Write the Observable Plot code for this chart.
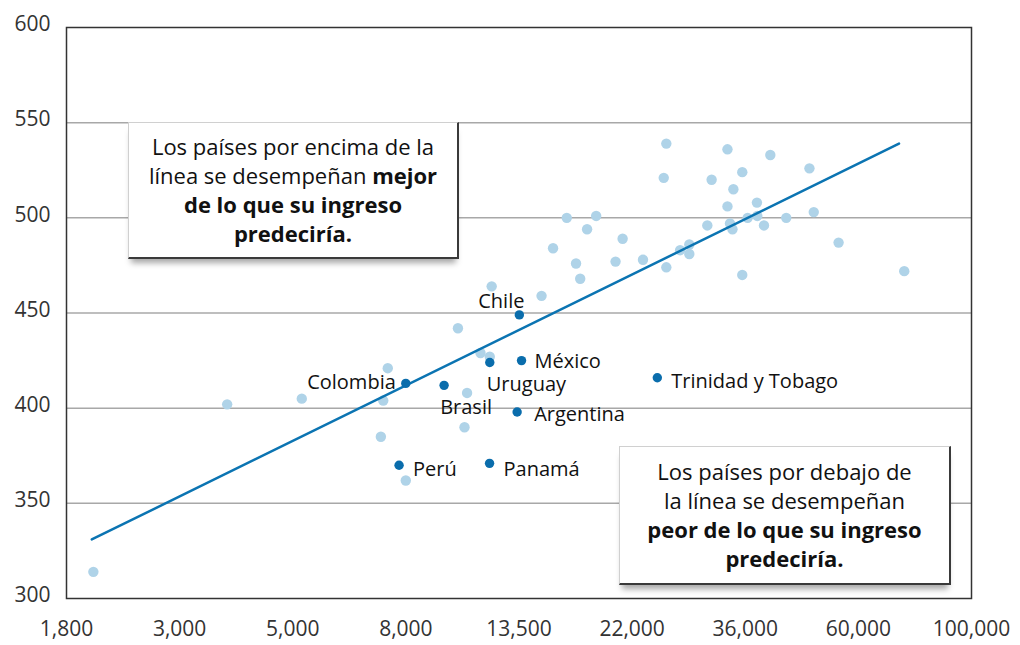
<!DOCTYPE html>
<html>
<head>
<meta charset="utf-8">
<script src="https://cdn.jsdelivr.net/npm/d3@7"></script>
<script src="https://cdn.jsdelivr.net/npm/@observablehq/plot@0.6"></script>
<style>
  html, body { margin: 0; padding: 0; background: #fff; }
  #wrap { position: relative; width: 1020px; height: 645px; font-family: "Open Sans", Lato, sans-serif; }
  #wrap svg { position: absolute; left: 0; top: 0; }
  .note {
    position: absolute; box-sizing: border-box; background: #fff;
    border-top: 1px solid #d0d0d0; border-left: 1px solid #d0d0d0;
    border-right: 2px solid #3a3a3a; border-bottom: 2px solid #3a3a3a;
    box-shadow: 0 7px 6px -3px rgba(0,0,0,0.35);
    display: flex; align-items: center; justify-content: center; text-align: center;
    font-size: 22px; line-height: 29px; color: #111;
  }
  .note b { font-weight: 700; }
</style>
</head>
<body>
<div id="wrap"></div>
<script>
// Other countries (income per capita, score)
const otherIncome = [2036, 3678, 5115, 7332, 7255, 8100, 7480, 10620, 10500, 10200, 11270, 11740,
  11840, 14760, 17510, 15530, 17190, 16500, 18790, 18050, 21120, 20470, 23110, 25620, 27230,
  28360, 28360, 25620, 25330, 31300, 33570, 40570, 35840, 48230, 34460, 33570, 38240, 30710,
  33950, 34320, 36700, 38300, 39450, 43530, 49160, 35840, 54860, 73330];
const otherScore = [314, 402, 405, 404, 385, 362, 421, 408, 390, 442, 429, 427,
  464, 459, 468, 484, 476, 500, 501, 494, 489, 477, 478, 474, 483,
  486, 481, 539, 521, 520, 536, 533, 524, 526, 515, 506, 508, 496,
  497, 494, 500, 501, 496, 500, 503, 470, 487, 472];

// Highlighted Latin American countries
const latamNames = ["Chile", "México", "Uruguay", "Argentina", "Brasil", "Colombia", "Perú", "Panamá", "Trinidad y Tobago"];
const latamIncome = [13380, 13510, 11740, 13250, 9594, 8100, 7863, 11730, 24620];
const latamScore = [449, 425, 424, 398, 412, 413, 370, 371, 416];

// Fitted line endpoints
const fitIncome = [2022, 71650];
const fitScore = [331, 539];

// Axis ticks
const xTickValues = [1808.04, 2980.96, 4914.77, 8103.08, 13359.73, 22026.47, 36315.5, 59874.14, 98715.77];
const xTickLabels = ["1,800", "3,000", "5,000", "8,000", "13,500", "22,000", "36,000", "60,000", "100,000"];
const yTicks = [300, 350, 400, 450, 500, 550, 600];
const yGrid = [350, 400, 450, 500, 550];

const others = otherIncome.map((x, i) => ({x, y: otherScore[i]}));
const latam = latamNames.map((name, i) => ({name, x: latamIncome[i], y: latamScore[i]}));
const fit = fitIncome.map((x, i) => ({x, y: fitScore[i]}));
const xTicks = xTickValues.map((v, i) => ({v, label: xTickLabels[i]}));

// label placement relative to each dot
const labelPlacement = {
  "Chile": {textAnchor: "middle", dx: -18, dy: -13},
  "México": {textAnchor: "start", dx: 13, dy: 1},
  "Uruguay": {textAnchor: "start", dx: -3, dy: 22},
  "Argentina": {textAnchor: "start", dx: 17, dy: 3},
  "Brasil": {textAnchor: "middle", dx: 22, dy: 22},
  "Colombia": {textAnchor: "end", dx: -10, dy: -1},
  "Perú": {textAnchor: "start", dx: 14, dy: 4},
  "Panamá": {textAnchor: "start", dx: 14, dy: 6},
  "Trinidad y Tobago": {textAnchor: "start", dx: 14, dy: 4}
};

const FONT = "'Open Sans', Lato, sans-serif";

const labelMarks = latam.map(d => Plot.text([d], {
  x: "x", y: "y", text: "name",
  ...labelPlacement[d.name],
  fontSize: 20, fontWeight: 500, fill: "#111", fontFamily: FONT
}));

const chart = Plot.plot({
  width: 1020,
  height: 645,
  marginLeft: 66,
  marginRight: 49,
  marginTop: 27,
  marginBottom: 47,
  style: {fontFamily: FONT, background: "transparent"},
  x: {type: "log", domain: [xTickValues[0], xTickValues[xTickValues.length - 1]], axis: null},
  y: {domain: [300, 600]},
  marks: [
    Plot.ruleY(yGrid, {stroke: "#a8a8a8", strokeWidth: 1.5}),
    Plot.axisY({ticks: yTicks, tickSize: 0, tickPadding: 16, fontSize: 21, dy: -3, fill: "#333", label: null}),
    Plot.text(xTicks, {x: "v", text: "label", frameAnchor: "bottom", dy: 37, fontSize: 21, fill: "#333", textAnchor: "middle"}),
    Plot.dot(others, {x: "x", y: "y", r: 5.2, fill: "#afd3e8", stroke: "none"}),
    Plot.line(fit, {x: "x", y: "y", stroke: "#0b74b2", strokeWidth: 2.5}),
    Plot.dot(latam, {x: "x", y: "y", r: 4.7, fill: "#0a6dac", stroke: "none"}),
    ...labelMarks,
    Plot.frame({stroke: "#333", strokeWidth: 1.5})
  ]
});

const wrap = document.getElementById("wrap");
wrap.appendChild(chart);

const notes = [
  {left: 128, top: 122, width: 331, height: 137,
   html: "Los países por encima de la<br>línea se desempeñan <b>mejor<br>de lo que su ingreso<br>predeciría.</b>"},
  {left: 619, top: 446, width: 332, height: 139,
   html: "Los países por debajo de<br>la línea se desempeñan<br><b>peor de lo que su ingreso<br>predeciría.</b>"}
];
notes.forEach(n => {
  const div = document.createElement("div");
  div.className = "note";
  div.style.left = n.left + "px";
  div.style.top = n.top + "px";
  div.style.width = n.width + "px";
  div.style.height = n.height + "px";
  div.innerHTML = "<div>" + n.html + "</div>";
  wrap.appendChild(div);
});
</script>
</body>
</html>
